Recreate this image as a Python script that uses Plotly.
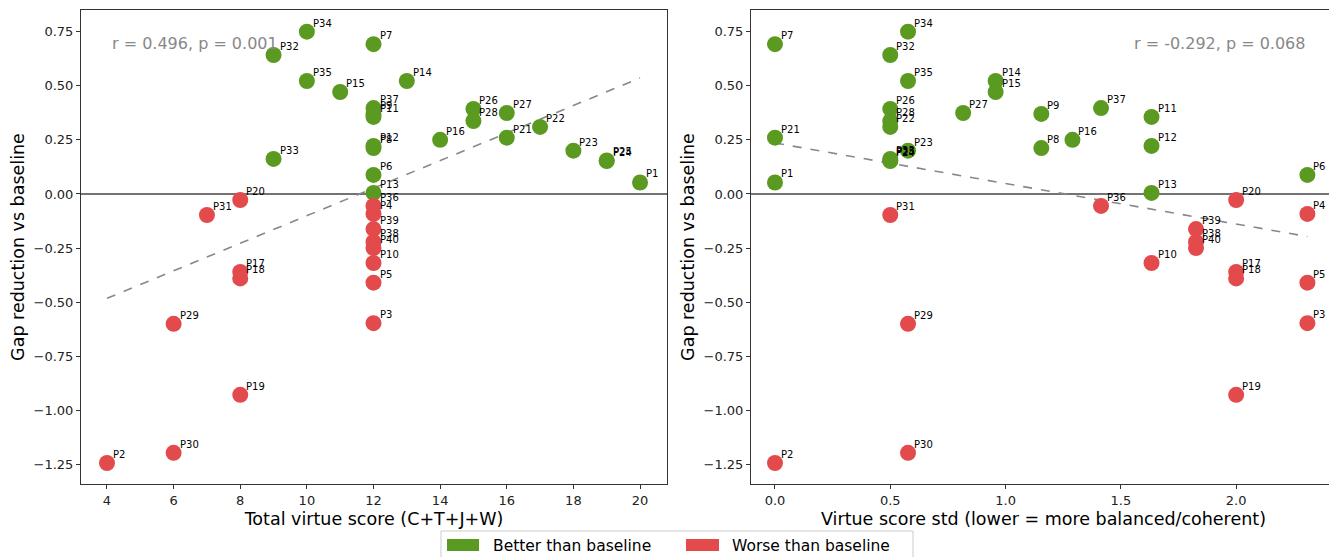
import numpy as np
import plotly.graph_objects as go

participants = [f"P{i}" for i in range(1, 41)]
total_score = [20, 4, 12, 12, 12, 12, 12, 12, 12, 12,
               12, 12, 12, 13, 11, 14, 8, 8, 8, 8,
               16, 17, 18, 19, 19, 15, 16, 15, 6, 6,
               7, 9, 9, 10, 10, 12, 12, 12, 12, 12]
std_score = [0.0, 0.0, 2.309, 2.309, 2.309, 2.309, 0.0, 1.155, 1.155, 1.633,
             1.633, 1.633, 1.633, 0.957, 0.957, 1.29, 2.0, 2.0, 2.0, 2.0,
             0.0, 0.5, 0.577, 0.5, 0.5, 0.5, 0.816, 0.5, 0.577, 0.577,
             0.5, 0.5, 0.5, 0.577, 0.577, 1.414, 1.414, 1.826, 1.826, 1.826]
gap_reduction = [0.053, -1.243, -0.597, -0.092, -0.41, 0.088, 0.692, 0.212, 0.37, -0.319,
                 0.356, 0.222, 0.005, 0.522, 0.471, 0.25, -0.36, -0.39, -0.928, -0.028,
                 0.26, 0.31, 0.2, 0.152, 0.155, 0.393, 0.374, 0.337, -0.6, -1.196,
                 -0.097, 0.642, 0.162, 0.75, 0.522, -0.055, 0.397, -0.222, -0.162, -0.25]
stats_left = "r = 0.496, p = 0.001"
stats_right = "r = -0.292, p = 0.068"
legend_labels = ["Better than baseline", "Worse than baseline"]

GREEN = "#5b9a20"
RED = "#e24a4c"
W, H = 1337, 557
OFF = 8  # page body margin

gap = np.array(gap_reduction)
colors = [GREEN if g > 0 else RED for g in gap_reduction]

fig = go.Figure()

panels = [(total_score, "x", "y"), (std_score, "x2", "y2")]
for xs, xr, yr in panels:
    xa = np.array(xs, dtype=float)
    k, b = np.polyfit(xa, gap, 1)
    lx = np.array([xa.min(), xa.max()])
    fig.add_trace(go.Scatter(x=lx, y=k * lx + b, mode="lines", xaxis=xr, yaxis=yr,
                             line=dict(color="#888888", width=1.6, dash="dash"),
                             showlegend=False, hoverinfo="skip"))
    fig.add_trace(go.Scatter(x=xs, y=gap_reduction, mode="markers", xaxis=xr, yaxis=yr,
                             marker=dict(size=16, color=colors, line=dict(width=0)),
                             text=participants, showlegend=False))
    for name, xv, yv in zip(participants, xs, gap_reduction):
        fig.add_annotation(x=xv, y=yv, xref=xr, yref=yr, text=name, showarrow=False,
                           xanchor="left", yanchor="bottom", xshift=4, yshift=1,
                           font=dict(size=10, color="black"))

def px(v):
    return (v - OFF) / W

def py(v):
    return 1 - (v - OFF) / H

ydom = [py(484), py(10)]
axis_common = dict(showline=True, linecolor="#333333", linewidth=1, mirror=True,
                   ticks="outside", ticklen=4, tickcolor="#333333", showgrid=False,
                   zeroline=False, tickfont=dict(size=13, color="#222222"))
ytickvals = [-1.25, -1.0, -0.75, -0.5, -0.25, 0, 0.25, 0.5, 0.75]
yticktext = ["−1.25", "−1.00", "−0.75", "−0.50", "−0.25", "0.00", "0.25", "0.50", "0.75"]

fig.update_layout(
    width=W, height=H, autosize=False,
    margin=dict(l=0, r=0, t=0, b=0),
    paper_bgcolor="white", plot_bgcolor="white",
    font=dict(family="DejaVu Sans", color="black"),
    xaxis=dict(domain=[px(81), px(667)], range=[3.22, 20.81], tickvals=list(range(4, 21, 2)),
               title=dict(text="Total virtue score (C+T+J+W)", font=dict(size=17.5), standoff=6),
               anchor="y", **axis_common),
    yaxis=dict(domain=ydom, range=[-1.34, 0.85], tickvals=ytickvals, ticktext=yticktext,
               title=dict(text="Gap reduction vs baseline", font=dict(size=17.5), standoff=4),
               anchor="x", **axis_common),
    xaxis2=dict(domain=[px(751), px(1336)], range=[-0.104, 2.433], tickvals=[0, 0.5, 1.0, 1.5, 2.0],
                ticktext=["0.0", "0.5", "1.0", "1.5", "2.0"],
                title=dict(text="Virtue score std (lower = more balanced/coherent)", font=dict(size=17.5), standoff=6),
                anchor="y2", **axis_common),
    yaxis2=dict(domain=ydom, range=[-1.34, 0.85], tickvals=ytickvals, ticktext=yticktext,
                title=dict(text="Gap reduction vs baseline", font=dict(size=17.5), standoff=4),
                anchor="x2", **axis_common),
)

# zero lines
for xr, yr in [("x", "y"), ("x2", "y2")]:
    fig.add_shape(type="line", xref=f"{xr} domain", yref=yr, x0=0, x1=1, y0=0, y1=0,
                  line=dict(color="#444444", width=1.5), layer="below")

# stats text
fig.add_annotation(xref="x domain", yref="y domain", x=0.05, y=0.93, text=stats_left,
                   showarrow=False, xanchor="left", yanchor="middle",
                   font=dict(size=16, color="#888888"))
fig.add_annotation(xref="x2 domain", yref="y2 domain", x=0.95, y=0.93, text=stats_right,
                   showarrow=False, xanchor="right", yanchor="middle",
                   font=dict(size=16, color="#888888"))

# legend (manual)
fig.add_shape(type="rect", xref="paper", yref="paper", x0=px(441), x1=px(913), y0=py(565), y1=py(531),
              line=dict(color="#cccccc", width=1), fillcolor="white")
for (x0, x1, tx), col, lab in zip([(447, 479, 491), (686, 719, 730)], [GREEN, RED], legend_labels):
    fig.add_shape(type="rect", xref="paper", yref="paper", x0=px(x0), x1=px(x1), y0=py(551), y1=py(539),
                  line=dict(width=0), fillcolor=col)
    fig.add_annotation(xref="paper", yref="paper", x=px(tx), y=py(545.5), text=lab, showarrow=False,
                       xanchor="left", yanchor="middle", font=dict(size=15.5, color="black"))

fig.write_html("out.html")
